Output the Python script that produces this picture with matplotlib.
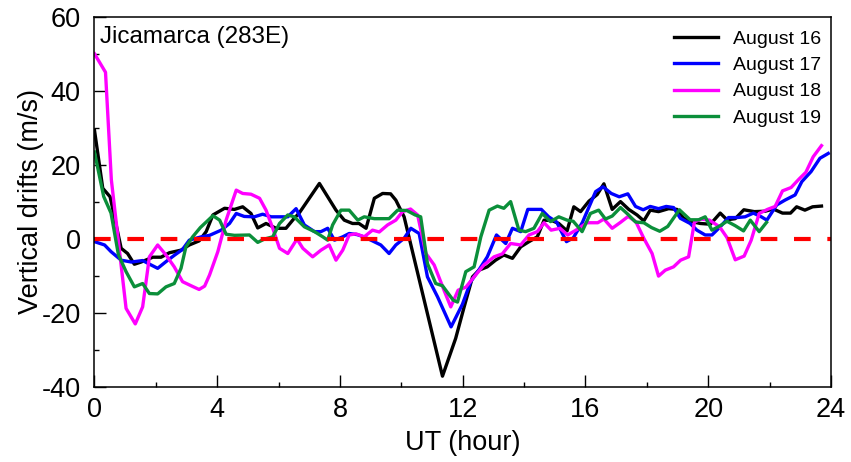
import matplotlib
matplotlib.use("Agg")
import matplotlib.pyplot as plt
from matplotlib.ticker import MultipleLocator

plt.rcParams['font.family'] = ['Liberation Sans', 'DejaVu Sans']
plt.rcParams['axes.unicode_minus'] = False

# Jicamarca vertical drifts, UT hour vs m/s
t16 = [0.0, 0.27, 0.51, 0.87, 1.08, 1.3, 1.52, 1.9, 2.17, 2.44, 2.82, 3.09, 3.41,
       3.64, 3.86, 4.24, 4.56, 4.83, 5.1, 5.32, 5.59, 5.92, 6.24, 6.51, 6.67, 7.33,
       7.87, 8.14, 8.41, 8.62, 8.85, 9.12, 9.39, 9.65, 9.82, 10.09, 11.34, 11.77,
       12.04, 12.32, 12.53, 12.8, 13.07, 13.34, 13.62, 13.89, 14.16, 14.43, 14.65,
       14.9, 15.13, 15.4, 15.62, 15.84, 16.11, 16.38, 16.6, 16.87, 17.14, 17.41,
       17.68, 17.9, 18.11, 18.38, 18.71, 18.98, 19.2, 19.47, 19.74, 20.07, 20.39,
       20.61, 20.88, 21.16, 21.5, 21.85, 22.12, 22.42, 22.68, 22.88, 23.15, 23.4,
       23.69]
v16 = [29.4, 13.7, 11.4, -2.5, -3.9, -6.8, -6.2, -4.9, -4.9, -3.7, -3.0, -1.6, -0.5,
       2.0, 6.5, 8.3, 8.0, 8.7, 6.9, 3.0, 4.2, 2.9, 2.9, 5.6, 7.0, 15.0,
       7.8, 5.1, 4.2, 4.2, 2.9, 11.0, 12.3, 12.2, 10.5, 6.0, -37.0, -26.8,
       -18.5, -10.2, -8.4, -7.5, -5.7, -4.3, -5.2, -2.1, -0.7, 0.6, 5.1,
       5.0, 4.2, 2.2, 8.7, 7.4, 10.2, 12.0, 14.9, 8.0, 10.1, 8.0,
       6.5, 4.9, 7.8, 7.4, 8.2, 8.0, 5.6, 4.7, 4.2, 4.0, 7.0,
       5.2, 5.5, 7.9, 7.4, 7.5, 8.1, 7.0, 7.0, 8.7, 7.8, 8.7,
       8.9]

t17 = [0.0, 0.33, 0.54, 0.87, 1.2, 1.57, 1.8, 2.06, 2.33, 2.6, 2.87, 3.09, 3.48,
       3.75, 4.13, 4.4, 4.62, 4.88, 5.21, 5.48, 5.76, 6.08, 6.3, 6.57, 6.84, 7.17,
       7.38, 7.6, 7.82, 8.09, 8.3, 8.56, 8.78, 9.06, 9.33, 9.6, 9.82, 10.09, 10.31,
       10.58, 10.85, 11.18, 11.62, 11.99, 12.26, 12.53, 12.8, 13.1, 13.4, 13.62,
       13.89, 14.12, 14.56, 14.8, 15.06, 15.38, 15.6, 15.9, 16.33, 16.57, 16.84,
       17.1, 17.38, 17.63, 17.88, 18.11, 18.38, 18.63, 18.87, 19.09, 19.41, 19.63,
       19.9, 20.12, 20.39, 20.66, 20.93, 21.2, 21.47, 21.73, 21.91, 22.23, 22.5,
       22.83, 23.05, 23.35, 23.64, 23.91]
v17 = [-0.7, -1.6, -3.4, -5.7, -6.2, -5.8, -6.8, -7.9, -6.1, -4.4, -2.8, -0.3, 0.6,
       1.0, 2.4, 4.2, 6.9, 6.1, 6.0, 6.7, 6.0, 6.0, 6.0, 8.2, 3.8, 2.0,
       2.0, 2.9, -0.3, 0.6, 1.5, 1.2, 0.6, -0.5, -1.6, -3.9, -1.6, 0.2, 2.9,
       1.5, -10.2, -15.6, -23.7, -17.6, -11.5, -8.3, -4.8, 1.1, -1.2, 2.9,
       2.0, 8.0, 8.0, 6.0, 4.6, -0.7, 0.3, 4.5, 12.8, 14.1, 12.3,
       11.4, 12.2, 8.8, 7.9, 8.8, 8.2, 8.8, 8.5, 5.6, 4.2, 2.4,
       1.1, 1.1, 3.3, 5.8, 5.8, 6.0, 7.0, 6.0, 5.1, 9.2, 10.5,
       11.9, 15.5, 18.2, 21.8, 23.1]

t18 = [0.0, 0.36, 0.55, 1.03, 1.33, 1.57, 1.79, 2.06, 2.33, 2.6, 2.87, 3.2, 3.41,
       3.59, 3.75, 4.02, 4.29, 4.62, 4.83, 5.1, 5.38, 5.59, 5.81, 6.03, 6.3, 6.6,
       6.79, 7.11, 7.38, 7.65, 7.87, 8.09, 8.3, 8.52, 8.79, 9.06, 9.28, 9.55, 9.82,
       10.04, 10.3, 10.53, 10.8, 11.07, 11.39, 11.61, 11.85, 12.1, 12.37, 12.69,
       13.02, 13.29, 13.56, 13.89, 14.16, 14.43, 14.65, 14.88, 15.17, 15.42, 15.73,
       16.05, 16.4, 16.6, 16.87, 17.14, 17.39, 17.64, 17.9, 18.17, 18.38, 18.6,
       18.87, 19.1, 19.36, 19.55, 19.76, 20.04, 20.37, 20.61, 20.88, 21.17, 21.4,
       21.66, 21.93, 22.18, 22.42, 22.7, 22.96, 23.18, 23.42, 23.69]
v18 = [50.0, 45.0, 16.0, -18.7, -22.9, -18.3, -4.8, -1.6, -4.3, -7.5, -11.5, -12.8, -13.6,
       -12.7, -9.7, -3.4, 5.1, 13.2, 12.3, 12.1, 11.0, 7.8, 2.9, -2.5, -3.9, 0.0,
       -2.5, -4.8, -3.0, -1.6, -5.7, -3.0, 1.1, 1.4, 0.6, 2.4, 1.9, 3.8, 5.1,
       7.4, 8.1, 6.5, -3.9, -7.0, -13.8, -18.3, -13.8, -13.0, -10.2, -7.0,
       -4.8, -4.0, -1.2, -1.6, 1.1, 2.0, 4.4, 2.4, 2.9, 1.1, 2.6,
       4.4, 4.4, 5.4, 2.9, 4.5, 6.1, 4.7, 0.2, -3.9, -10.0, -8.4,
       -7.5, -5.7, -4.8, 4.6, 5.4, 5.1, 3.3, 0.4, -5.6, -4.6, -0.3,
       6.9, 8.0, 8.8, 13.0, 13.9, 16.2, 18.0, 22.2, 25.2]

t19 = [0.0, 0.3, 0.54, 0.78, 1.03, 1.3, 1.57, 1.79, 2.06, 2.33, 2.6, 2.82, 2.98,
       3.2, 3.45, 3.86, 4.08, 4.29, 4.56, 5.05, 5.32, 5.54, 5.81, 6.03, 6.3, 6.51,
       6.84, 7.17, 7.44, 7.6, 7.76, 8.03, 8.3, 8.58, 8.79, 9.12, 9.39, 9.6, 9.88,
       10.18, 10.45, 10.63, 10.85, 11.12, 11.34, 11.69, 11.83, 12.1, 12.37, 12.59,
       12.86, 13.13, 13.34, 13.56, 13.83, 14.05, 14.32, 14.59, 14.86, 15.13, 15.4,
       15.6, 15.89, 16.16, 16.43, 16.65, 16.87, 17.14, 17.38, 17.63, 17.9, 18.15,
       18.42, 18.68, 19.06, 19.41, 19.69, 19.9, 20.12, 20.39, 20.61, 20.88, 21.15,
       21.37, 21.66, 21.9]
v19 = [23.5, 11.5, 7.0, -4.2, -8.8, -12.9, -12.0, -14.7, -14.8, -12.9, -12.0, -7.9, -2.1,
       0.6, 3.1, 6.3, 5.1, 1.3, 1.0, 1.1, -0.9, 0.0, 0.6, 4.2, 6.5, 6.0,
       3.3, 2.0, 0.6, -0.3, 3.8, 7.8, 7.8, 5.1, 6.0, 5.5, 5.5, 5.5, 7.8,
       7.7, 6.5, 6.0, -6.6, -12.0, -12.6, -16.5, -17.0, -8.8, -7.5, 0.6,
       7.8, 8.9, 8.3, 10.1, 2.4, 2.0, 2.9, 6.9, 4.7, 6.0, 5.1,
       4.8, 2.0, 6.9, 7.8, 5.4, 6.2, 8.5, 6.7, 4.6, 4.4, 3.1,
       2.1, 3.4, 7.9, 5.2, 5.2, 6.0, 2.4, 3.6, 4.8, 3.6, 2.2,
       5.1, 2.0, 4.5]

series = [
    (t16, v16, 'black', 'August 16'),
    (t17, v17, '#0000ff', 'August 17'),
    (t18, v18, '#ff00ff', 'August 18'),
    (t19, v19, '#0b8f3a', 'August 19'),
]

fig = plt.figure(figsize=(8.51, 4.62), dpi=100)
ax = fig.add_axes([0.111, 0.1617, 0.8655, 0.8022])

for t, v, c, lab in series:
    ax.plot(t, v, color=c, lw=2.4, label=lab)

ax.plot([0, 24], [0, 0], color='#ff0000', lw=3, dashes=(4, 4))

ax.set_xlim(0, 24)
ax.set_ylim(-40, 60)
ax.xaxis.set_major_locator(MultipleLocator(4))
ax.xaxis.set_minor_locator(MultipleLocator(2))
ax.yaxis.set_major_locator(MultipleLocator(20))
ax.yaxis.set_minor_locator(MultipleLocator(10))
ax.tick_params(which='both', direction='in', labelsize=19.5, width=1)
ax.tick_params(which='major', length=8.5)
ax.tick_params(which='minor', length=3.6)
ax.tick_params(axis='x', pad=7)
ax.tick_params(axis='y', pad=10)
for s in ax.spines.values():
    s.set_linewidth(1.1)

ax.set_xlabel('UT (hour)', fontsize=19.5, labelpad=5)
ax.set_ylabel('Vertical drifts (m/s)', fontsize=19.5, labelpad=-2)

ax.text(0.008, 0.975, 'Jicamarca (283E)', transform=ax.transAxes,
        fontsize=17.5, va='top', ha='left')

ax.legend(loc='upper right', frameon=False, fontsize=14, handlelength=2.3,
          handletextpad=0.75, labelspacing=0.45, borderaxespad=0.0,
          bbox_to_anchor=(0.997, 0.985))

fig.savefig('out.png', dpi=100)
